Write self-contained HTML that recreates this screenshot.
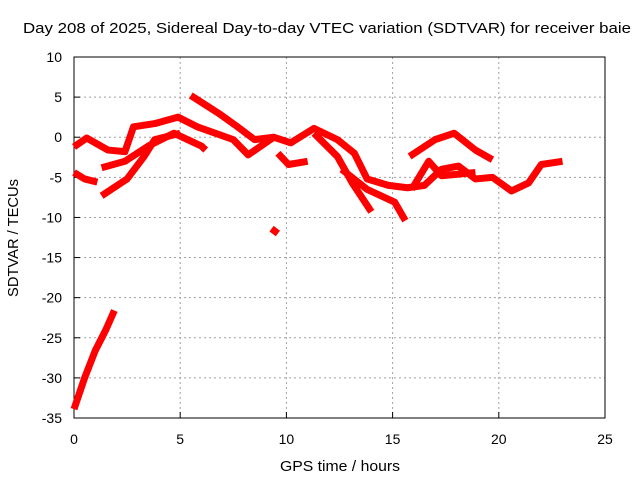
<!DOCTYPE html>
<html><head><meta charset="utf-8"><style>
body{margin:0;background:#fff;}
text{font-family:"Liberation Sans",sans-serif;font-size:14px;fill:#000;}
</style></head><body>
<svg id="chart" width="640" height="480">
<g id="grid"></g>
<g id="axes"></g>
<g id="series"></g>
<text x="327" y="33" text-anchor="middle" textLength="608" lengthAdjust="spacingAndGlyphs" style="font-size:15px">Day 208 of 2025, Sidereal Day-to-day VTEC variation (SDTVAR) for receiver baie</text>
<text x="340" y="471" text-anchor="middle" textLength="120" lengthAdjust="spacingAndGlyphs" style="font-size:15px">GPS time / hours</text>
<text transform="translate(18,238) rotate(-90)" text-anchor="middle" textLength="118" lengthAdjust="spacingAndGlyphs" style="font-size:15px">SDTVAR / TECUs</text>
</svg>
<script>
const xTicks=[0,5,10,15,20,25];
const yTicks=[10,5,0,-5,-10,-15,-20,-25,-30,-35];
const traceA_h=[0,0.6,1.6,2.4,2.8,3.8,4.9,5.8,7.5,8.2,9.4,10.2,11.3,12.4,13.2,13.8,14.8,15.7,16.5,17.3,18.1,18.9,19.7,20.6,21.4,22,23];
const traceA_v=[-1.2,-0.1,-1.6,-1.8,1.3,1.7,2.5,1.3,-0.3,-2.2,0,-0.7,1.1,-0.3,-2,-5.2,-6,-6.3,-6,-4,-3.6,-5.2,-5,-6.7,-5.7,-3.4,-3];
const traceB_h=[0,0.5,1.1];const traceB_v=[-4.4,-5.2,-5.6];
const traceC_h=[1.3,2.4,3.5,4.7,6,6.2];const traceC_v=[-3.8,-3,-1.1,0.5,-1.1,-1.6];
const traceD_h=[1.3,2.5,3.3,3.8,5];const traceD_v=[-7.3,-5.2,-2.4,-0.3,0.5];
const traceE_h=[5.5,6.8,7.7,8.5,9.4];const traceE_v=[5.2,3,1.3,-0.3,0];
const traceF_h=[11.3,12.4,13.1,14];const traceF_v=[0.5,-2.4,-5.7,-9.3];
const traceG_h=[12.6,13.8,15.1,15.6];const traceG_v=[-4,-6.5,-8.1,-10.4];
const traceH_h=[15.8,17,17.9,18.9,19.7];const traceH_v=[-2.4,-0.3,0.5,-1.6,-2.8];
const traceI_h=[15.9,16.7,17.3,18.9];const traceI_v=[-6.5,-3,-4.8,-4.4];
const traceJ_h=[9.6,10.1,11];const traceJ_v=[-2,-3.4,-3];
const traceK_h=[9.3,9.6];const traceK_v=[-11.4,-12];
const traceL_h=[0,0.5,1,1.5,1.9];const traceL_v=[-33.9,-30,-26.6,-24,-21.6];
const traces=[[traceA_h,traceA_v],[traceB_h,traceB_v],[traceC_h,traceC_v],[traceD_h,traceD_v],[traceE_h,traceE_v],[traceF_h,traceF_v],[traceG_h,traceG_v],[traceH_h,traceH_v],[traceI_h,traceI_v],[traceJ_h,traceJ_v],[traceK_h,traceK_v],[traceL_h,traceL_v]];
const L=74,R=605,T=57,B=418;
const sx=h=>L+(h-0)/25*(R-L);
const sy=v=>T+(10-v)/45*(B-T);
const NS="http://www.w3.org/2000/svg";
function mk(tag,parent){const e=document.createElementNS(NS,tag);parent.appendChild(e);return e;}
const grid=document.getElementById('grid'),axes=document.getElementById('axes'),ser=document.getElementById('series');
xTicks.forEach(t=>{
 const x=sx(t);
 if(t>0&&t<25){const g=mk('line',grid);g.setAttribute('x1',x);g.setAttribute('x2',x);g.setAttribute('y1',T);g.setAttribute('y2',B);g.setAttribute('stroke','#a0a0a0');g.setAttribute('stroke-dasharray','2,3');
 
 }
 const tx=mk('text',axes);tx.setAttribute('x',x);tx.setAttribute('y',B+26);tx.setAttribute('text-anchor','middle');tx.textContent=t;
 
 
 const tk=mk('line',axes);tk.setAttribute('x1',x);tk.setAttribute('x2',x);tk.setAttribute('y1',B);tk.setAttribute('y2',B-6);tk.setAttribute('stroke','#000');
 
 
});
yTicks.forEach(t=>{
 const y=sy(t);
 if(t<10&&t>-35){const g=mk('line',grid);g.setAttribute('x1',L);g.setAttribute('x2',R);g.setAttribute('y1',y);g.setAttribute('y2',y);g.setAttribute('stroke','#a0a0a0');g.setAttribute('stroke-dasharray','2,3');
 
 }
 const tx=mk('text',axes);tx.setAttribute('x',L-12);tx.setAttribute('y',y+5);tx.setAttribute('text-anchor','end');tx.textContent=t;
 
 
 const tk=mk('line',axes);tk.setAttribute('x1',L);tk.setAttribute('x2',L+6);tk.setAttribute('y1',y);tk.setAttribute('y2',y);tk.setAttribute('stroke','#000');
 
 
});
const fr=mk('rect',axes);fr.setAttribute('x',L);fr.setAttribute('y',T);fr.setAttribute('width',R-L);fr.setAttribute('height',B-T);fr.setAttribute('fill','none');fr.setAttribute('stroke','#000');


traces.forEach(([hs,vs])=>{
 const p=mk('polyline',ser);
 p.setAttribute('points',hs.map((h,i)=>sx(h)+','+sy(vs[i])).join(' '));
 p.setAttribute('fill','none');p.setAttribute('stroke','#ff0000');p.setAttribute('stroke-width','7');p.setAttribute('stroke-linejoin','round');
 
 
});
</script>
</body></html>
